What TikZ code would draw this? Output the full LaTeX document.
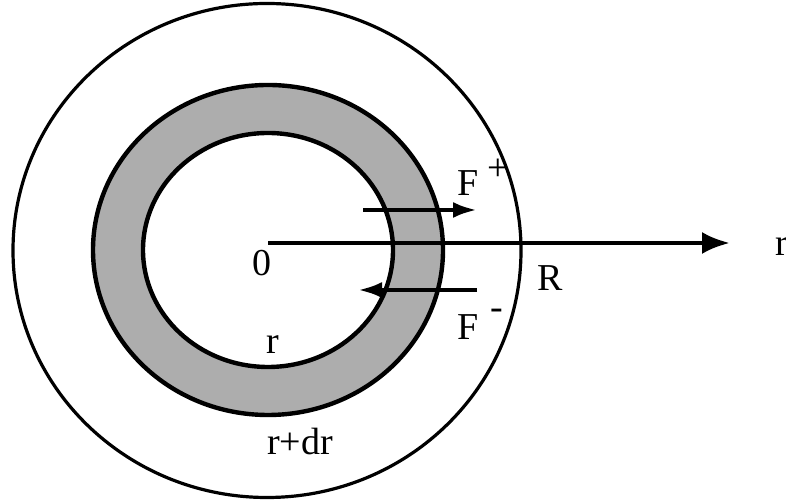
\documentclass[tikz,border=0pt]{standalone}
\usepackage{fontspec}
\setmainfont{Liberation Serif}
\usetikzlibrary{arrows.meta}

\begin{document}
\begin{tikzpicture}[x=.5pt,y=.5pt,font=\fontsize{19}{22}\selectfont,
  lbl/.style={inner sep=0pt},
  force/.style={line width=2.2pt,-{Latex[length=12pt,width=8pt]}}]
\useasboundingbox(0,0)rectangle(786,501);
\coordinate(c)at(268,251);
\draw[line width=1.6pt](267,250.5)ellipse(254 and 247);
\draw[line width=2.2pt,fill=black!32](c)ellipse(175 and 165);
\draw[line width=2.2pt,fill=white](c)ellipse(125 and 117);
\coordinate(o)at(268,258);\coordinate(e)at(730,258);
\draw[line width=2.2pt,-{Latex[length=14pt,width=11pt]}](o)--(e);
\node[lbl](rr)at(782,254){r};\node[lbl](z)at(262,238){0};
\node[lbl](R)at(550,223){R};
\node[lbl](ri)at(273,156){r};\node[lbl](ro)at(300,59){r+dr};
\coordinate(a1)at(363,291);\coordinate(a2)at(477,291);\draw[force](a1)--(a2);
\coordinate(b1)at(477,211);\coordinate(b2)at(358,211);\draw[force](b1)--(b2);
\node[lbl](fp)at(468,318){F};\node[lbl](pp)at(498,331){+};
\node[lbl](fm)at(468,174){F};\node[lbl](mm)at(497,187){-};
\end{tikzpicture}
\end{document}
